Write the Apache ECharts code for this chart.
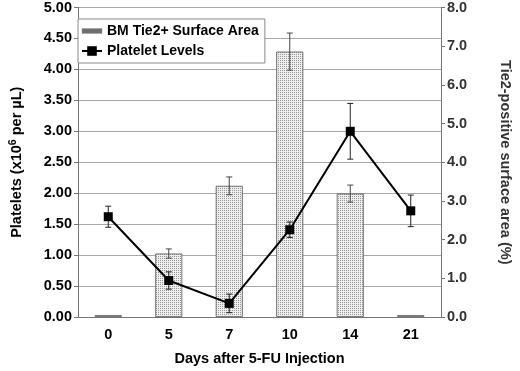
<!DOCTYPE html>
<html>
<head>
<meta charset="utf-8">
<script src="https://cdn.jsdelivr.net/npm/echarts@6/dist/echarts.min.js"></script>
<style>
  html, body { margin: 0; padding: 0; background: #fff; }
  #chart { width: 520px; height: 371px; }
</style>
</head>
<body>
<div id="chart"></div>
<script>
// data
var days = ['0', '5', '7', '10', '14', '21'];
var tie2Area = [0.05, 1.64, 3.39, 6.86, 3.19, 0.05];   // % (right axis)
var tie2Err = [0, 0.12, 0.23, 0.48, 0.22, 0];
var platelets = [1.62, 0.59, 0.22, 1.41, 3.00, 1.715]; // x10^6 per uL (left axis)
var plateletErr = [0.17, 0.14, 0.15, 0.125, 0.45, 0.255];
var leftTicks = [0, 0.5, 1, 1.5, 2, 2.5, 3, 3.5, 4, 4.5, 5];
var rightTicks = [0, 1, 2, 3, 4, 5, 6, 7, 8];

var FONT = 'Liberation Sans, Arial, sans-serif';
var FS = 14.5;

// dotted fill like the print
var pat = document.createElement('canvas');
pat.width = 2; pat.height = 2;
var ctx = pat.getContext('2d');
ctx.fillStyle = '#efefef';
ctx.fillRect(0, 0, 2, 2);
ctx.fillStyle = '#959595';
ctx.fillRect(0, 0, 1, 1);

function errData(vals, errs) {
    var out = [];
    for (var i = 0; i < vals.length; i++) {
        if (errs[i] > 0) out.push([i, vals[i] - errs[i], vals[i] + errs[i]]);
    }
    return out;
}

function errRender(color) {
    return function (params, api) {
        var lo = api.coord([api.value(0), api.value(1)]);
        var hi = api.coord([api.value(0), api.value(2)]);
        var w = 3;
        var st = { stroke: color, lineWidth: 1 };
        return {
            type: 'group',
            children: [
                { type: 'line', shape: { x1: hi[0], y1: hi[1], x2: lo[0], y2: lo[1] }, style: st },
                { type: 'line', shape: { x1: hi[0] - w, y1: hi[1], x2: hi[0] + w, y2: hi[1] }, style: st },
                { type: 'line', shape: { x1: lo[0] - w, y1: lo[1], x2: lo[0] + w, y2: lo[1] }, style: st }
            ]
        };
    };
}

var chart = echarts.init(document.getElementById('chart'));

var option = {
    animation: false,
    textStyle: { fontFamily: FONT },
    grid: { left: 65, right: 63, top: 7, bottom: 44 },
    legend: {
        orient: 'vertical',
        left: 78, top: 19,
        padding: [5, 6, 5, 3],
        itemGap: 6,
        itemWidth: 20, itemHeight: 12,
        borderColor: '#888', borderWidth: 1,
        backgroundColor: '#fff',
        textStyle: { fontFamily: FONT, fontSize: 14, fontWeight: 'bold', color: '#000' },
        data: [
            { name: 'BM Tie2+ Surface Area', icon: 'path://M0,0H20V5H0Z', itemStyle: { color: '#6e6e6e', borderColor: '#999', borderWidth: 0.5 } },
            { name: 'Platelet Levels' }
        ]
    },
    xAxis: {
        type: 'category',
        data: days,
        name: 'Days after 5-FU Injection',
        nameLocation: 'middle',
        nameGap: 34,
        nameTextStyle: { fontSize: FS, fontWeight: 'bold', color: '#000' },
        axisLine: { lineStyle: { color: '#777' } },
        axisTick: { length: 4, lineStyle: { color: '#777' } },
        axisLabel: { fontSize: FS, fontWeight: 'bold', color: '#000', margin: 10 }
    },
    yAxis: [
        {
            type: 'value',
            min: 0, max: 5, interval: 0.5,
            name: '{a|Platelets (x10}{s|6}{a| per µL)}',
            nameLocation: 'middle',
            nameGap: 52,
            nameTextStyle: {
                rich: {
                    a: { fontSize: FS, fontWeight: 'bold', color: '#000', lineHeight: 18 },
                    s: { fontSize: 10.5, fontWeight: 'bold', color: '#000', lineHeight: 10, verticalAlign: 'top', padding: [0, 0, 8, 0] }
                }
            },
            axisLine: { show: true, lineStyle: { color: '#777' } },
            axisTick: { show: true, length: 4, lineStyle: { color: '#777' } },
            axisLabel: {
                fontSize: FS, fontWeight: 'bold', color: '#000', margin: 6,
                formatter: function (v) { return v.toFixed(2); }
            },
            splitLine: { show: true, lineStyle: { color: '#a8a8a8' } }
        },
        {
            type: 'value',
            min: 0, max: 8, interval: 1,
            position: 'right',
            name: 'Tie2-positive surface area (%)',
            nameLocation: 'middle',
            nameRotate: -90,
            nameGap: 56,
            nameTextStyle: { fontSize: FS, fontWeight: 'bold', color: '#333' },
            axisLine: { show: true, lineStyle: { color: '#777' } },
            axisTick: { show: true, length: 4, lineStyle: { color: '#777' } },
            axisLabel: {
                fontSize: FS, fontWeight: 'bold', color: '#333', margin: 6,
                formatter: function (v) { return v.toFixed(1); }
            },
            splitLine: { show: false }
        }
    ],
    series: [
        {
            name: 'BM Tie2+ Surface Area',
            type: 'bar',
            yAxisIndex: 1,
            barWidth: 27,
            data: tie2Area,
            itemStyle: { color: { image: pat, repeat: 'repeat' }, borderColor: '#555', borderWidth: 0.8 },
            z: 2
        },
        {
            name: 'tie2 err',
            type: 'custom',
            yAxisIndex: 1,
            data: errData(tie2Area, tie2Err),
            renderItem: errRender('#444'),
            z: 3
        },
        {
            name: 'platelet err',
            type: 'custom',
            yAxisIndex: 0,
            data: errData(platelets, plateletErr),
            renderItem: errRender('#222'),
            z: 4
        },
        {
            name: 'Platelet Levels',
            type: 'line',
            yAxisIndex: 0,
            data: platelets,
            symbol: 'rect',
            symbolSize: 9,
            lineStyle: { color: '#000', width: 2 },
            itemStyle: { color: '#000' },
            z: 5
        }
    ]
};

chart.setOption(option);
</script>
</body>
</html>
